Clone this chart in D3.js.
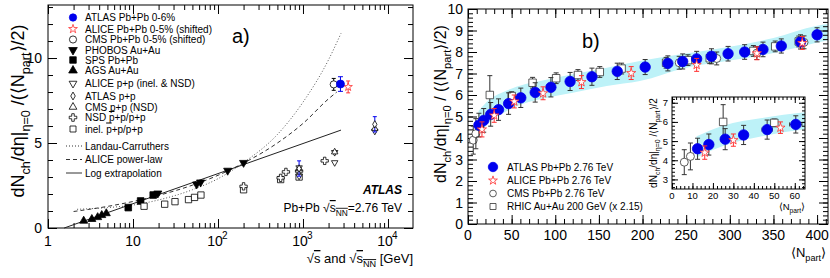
<!DOCTYPE html>
<meta charset="utf-8">
<title>dNch/deta per participant pair</title>
<style>
	body { margin: 0; background: #fff; }
	svg text { font-family: 'Liberation Sans Narrow', 'Liberation Sans', Arial, sans-serif; fill: #000; }
	.frame { fill: none; stroke: #000; stroke-width: 1; }
	.tick line, .domain { stroke: #000; }
</style>
<body>
<svg id="fig" width="830" height="278"></svg>

<script src="https://d3js.org/d3.v7.min.js"></script>
<script>
// ---------- panel a) : sqrt(s) [GeV] vs dNch/deta/(Npart/2) ----------
var agsE = [2.63, 3.28, 3.84, 4.29, 4.85];
var agsY = [0.42, 0.52, 0.63, 0.75, 0.86];
var spsE = [8.8, 12.3, 17.3];
var spsY = [1.2, 1.59, 1.94];
var phobosE = [19.6, 56, 62.4, 130, 200];
var phobosY = [2.04, 2.57, 2.69, 3.38, 3.84];
var lhcE = [2760, 3400, 2300];          // ATLAS, ALICE (shifted), CMS (shifted)
var lhcY = [8.47, 8.3, 8.45];
var lhcErr = [0.43, 0.35, 0.35];
var alicePpE = [900, 900, 2360, 2360, 7000];
var alicePpY = [3.05, 3.55, 3.85, 4.45, 5.7];
var atlasPpE = [900, 7000];
var atlasPpY = [3.5, 6.1];
var atlasPpErr = [0.45, 0.45];
var cmsPpE = [900, 2360, 7000];
var cmsPpY = [3.48, 4.47, 5.85];
var nsdE = [200, 546, 630, 900, 1800];
var nsdY = [2.45, 2.95, 3.3, 3.35, 3.95];
var inelE = [13.5, 23.6, 31.2, 45, 53, 63, 200, 546, 900];
var inelY = [1.28, 1.4, 1.55, 1.67, 1.8, 1.94, 2.25, 2.85, 3.0];
// curves
var landauE = [2.2, 5, 10, 20, 50, 100, 200, 500, 1000, 2000, 2800];
var landauY = [1.1, 1.2, 1.35, 1.65, 2.25, 2.9, 3.85, 5.5, 7.4, 9.9, 11.45];
var powerE = [2, 5, 10, 20, 50, 100, 200, 500, 1000, 2000, 2500];
var powerY = [0.97, 1.27, 1.56, 1.92, 2.52, 3.1, 3.82, 5.0, 6.15, 7.6, 8.0];
var logE = [1.55, 2800];
var logY = [0, 5.76];

// ---------- panel b) : <Npart> vs dNch/deta/(<Npart>/2) ----------
var atlasN = [12.5, 18, 26, 35, 46.5, 60.5, 77, 95, 117, 142, 171, 203, 229, 246, 262, 279, 298, 317, 338, 359, 381, 400];
var atlasV = [4.6, 4.82, 5.1, 5.32, 5.6, 5.87, 6.12, 6.36, 6.63, 6.85, 7.1, 7.3, 7.47, 7.56, 7.68, 7.8, 7.92, 8.0, 8.12, 8.28, 8.47, 8.8];
var atlasErr = [0.55, 0.55, 0.55, 0.5, 0.5, 0.45, 0.45, 0.45, 0.42, 0.4, 0.38, 0.35, 0.35, 0.35, 0.35, 0.35, 0.34, 0.34, 0.34, 0.33, 0.33, 0.33];
var atlasNErr = [1.5, 2, 2, 2, 2.5, 3, 3, 3, 3.5, 3.5, 4, 4, 4, 4, 4, 4, 4, 4, 4, 4, 4, 3.5];
var aliceN = [16, 30, 53, 86, 130, 187, 262, 331, 383];
var aliceV = [4.4, 5.05, 5.7, 6.08, 6.6, 7.02, 7.4, 7.94, 8.42];
var aliceErr = [0.35, 0.32, 0.3, 0.3, 0.3, 0.3, 0.3, 0.3, 0.3];
var cmsN = [6, 9, 242, 285, 331, 385];
var cmsV = [3.9, 4.2, 7.5, 7.7, 7.95, 8.45];
var cmsErr = [0.65, 0.7, 0.3, 0.3, 0.3, 0.3];
var rhicN = [25, 50, 74, 101, 126, 151, 176, 227, 252, 277, 327, 352, 379];
var rhicV = [6.0, 5.95, 6.57, 6.78, 6.93, 7.07, 7.23, 7.5, 7.62, 7.71, 8.05, 8.26, 8.49];
var rhicErr = [0.9, 0.2, 0.25, 0.25, 0.25, 0.25, 0.25, 0.25, 0.25, 0.25, 0.25, 0.25, 0.25];
// systematic band
var bandN = [12, 25, 44, 65, 83, 120, 159, 197, 250, 300, 350, 400, 412];
var bandLo = [4.15, 4.75, 5.25, 5.62, 5.8, 6.1, 6.42, 6.65, 7.27, 7.6, 7.95, 8.44, 8.55];
var bandHi = [5.25, 5.8, 6.2, 6.5, 6.65, 6.96, 7.27, 7.58, 7.93, 8.25, 8.65, 9.22, 9.3];

var BLUE = "#0000ee", RED = "#ff3030", BAND = "#bdf2f8";

var svg = d3.select("#fig");

// ---------- helpers ----------
// text with sub / superscripts: parts = [[string, kind], ...]
function rich(t, parts, fs) {
	var shift = 0;
	t.attr("font-size", fs);
	parts.forEach(function (p) {
		var kind = p[1] || "";
		var target = kind.indexOf("sub") >= 0 ? fs * 0.32 : kind.indexOf("sup") >= 0 ? -fs * 0.42 : 0;
		var sp = t.append("tspan").text(p[0]).attr("dy", target - shift);
		if (target !== 0) sp.attr("font-size", fs * 0.7);
		if (kind.indexOf("ovl") >= 0) sp.style("text-decoration", "overline");
		shift = target;
	});
	return t;
}

var shapes = {
	circle: d3.symbolCircle, square: d3.symbolSquare, tri: d3.symbolTriangle,
	diamond: d3.symbolDiamond, cross: d3.symbolCross, star: d3.symbolStar
};
function marker(g, kind, x, y, size, color, filled, down) {
	var p = g.append("path")
		.attr("d", d3.symbol().type(shapes[kind]).size(size)())
		.attr("transform", "translate(" + x + "," + y + ")" + (down ? " rotate(180)" : ""))
		.attr("fill", filled ? color : "#fff")
		.attr("stroke", color)
		.attr("stroke-width", 0.8);
	return p;
}
function errBar(g, x, y0, y1, color, cap) {
	g.append("line").attr("x1", x).attr("x2", x).attr("y1", y0).attr("y2", y1)
		.attr("stroke", color).attr("stroke-width", 1);
	if (cap) {
		[y0, y1].forEach(function (yy) {
			g.append("line").attr("x1", x - cap).attr("x2", x + cap).attr("y1", yy).attr("y2", yy)
				.attr("stroke", color).attr("stroke-width", 1);
		});
	}
}
function hBar(g, x0, x1, y, color, cap) {
	g.append("line").attr("x1", x0).attr("x2", x1).attr("y1", y).attr("y2", y)
		.attr("stroke", color).attr("stroke-width", 1);
	[x0, x1].forEach(function (xx) {
		g.append("line").attr("x1", xx).attr("x2", xx).attr("y1", y - cap).attr("y2", y + cap)
			.attr("stroke", color).attr("stroke-width", 1);
	});
}
function zip(a, b) { return a.map(function (v, i) { return [v, b[i]]; }); }

// inward ticks on all four sides
function frameAxes(g, x, y, xMajor, xMinor, yMajor, yMinor, L, S) {
	var r = x.range(), t = y.range();
	var defs = [
		[d3.axisBottom(x), "translate(0," + t[0] + ")"],
		[d3.axisTop(x), "translate(0," + t[1] + ")"],
		[d3.axisLeft(y), "translate(" + r[0] + ",0)"],
		[d3.axisRight(y), "translate(" + r[1] + ",0)"]
	];
	defs.forEach(function (d, i) {
		var major = i < 2 ? xMajor : yMajor, minor = i < 2 ? xMinor : yMinor;
		g.append("g").attr("transform", d[1])
			.call(d[0].tickValues(major).tickSize(-L).tickSizeOuter(0).tickFormat(""))
			.call(function (s) { s.select(".domain").remove(); });
		g.append("g").attr("transform", d[1])
			.call(d[0].tickValues(minor).tickSize(-S).tickSizeOuter(0).tickFormat(""))
			.call(function (s) { s.select(".domain").remove(); });
	});
	g.append("rect").attr("class", "frame")
		.attr("x", r[0]).attr("y", t[1]).attr("width", r[1] - r[0]).attr("height", t[0] - t[1]);
}

// =====================================================================
// panel a)
// =====================================================================
var xa = d3.scaleLog().domain([1, 19700]).range([48, 413]);
var ya = d3.scaleLinear().domain([0, 13.12]).range([228, 5]);
var ga = svg.append("g");

var logMinor = [];
[1, 10, 100, 1000, 10000].forEach(function (d) {
	for (var k = 2; k <= 9; k++) if (d * k < 19700) logMinor.push(d * k);
});
frameAxes(ga, xa, ya, [1, 10, 100, 1000, 10000], logMinor, [0, 5, 10], d3.range(0, 14), 9, 5);

// tick labels
[0, 5, 10].forEach(function (v) {
	ga.append("text").attr("x", 42).attr("y", ya(v) + 5).attr("text-anchor", "end")
		.attr("font-size", 14).text(v);
});
[1, 10, 100, 1000, 10000].forEach(function (v) {
	var p = Math.round(Math.log10(v));
	var cx = xa(v) + (p >= 2 ? -3 : 0);
	ga.append("text").attr("x", cx).attr("y", 246).attr("text-anchor", "middle")
		.attr("font-size", 14).text(p >= 2 ? "10" : v);
	if (p >= 2) ga.append("text").attr("x", cx + 7).attr("y", 239).attr("font-size", 10).text(p);
});
rich(ga.append("text").attr("x", 413).attr("y", 263).attr("text-anchor", "end"),
	[["\u221a"], ["s", "ovl"], [" and "], ["\u221a"], ["s", "ovl"], ["NN", "subovl"], [" [GeV]"]], 13);
rich(ga.append("text").attr("transform", "translate(24,111) rotate(-90)").attr("text-anchor", "middle"),
	[["dN"], ["ch", "sub"], ["/d\u03b7|"], ["\u03b7=0", "sub"], [" /(\u27e8N"], ["part", "sub"], ["\u27e9/2)"]], 18);

// curves
var lineA = d3.line().x(function (d) { return xa(d[0]); }).y(function (d) { return ya(d[1]); }).curve(d3.curveMonotoneX);
ga.append("path").attr("d", lineA(zip(landauE, landauY))).attr("fill", "none")
	.attr("stroke", "#555").attr("stroke-width", 1).attr("stroke-dasharray", "1,2");
ga.append("path").attr("d", lineA(zip(powerE, powerY))).attr("fill", "none")
	.attr("stroke", "#333").attr("stroke-width", 1).attr("stroke-dasharray", "4,3");
ga.append("path").attr("d", lineA(zip(logE, logY))).attr("fill", "none")
	.attr("stroke", "#222").attr("stroke-width", 1);

// points
agsE.forEach(function (e, i) { marker(ga, "tri", xa(e), ya(agsY[i]), 28, "#000", true); });
spsE.forEach(function (e, i) { marker(ga, "square", xa(e), ya(spsY[i]), 44, "#000", true); });
phobosE.forEach(function (e, i) { marker(ga, "tri", xa(e), ya(phobosY[i]), 28, "#000", true, true); });
inelE.forEach(function (e, i) { marker(ga, "square", xa(e), ya(inelY[i]), 40, "#000", false); });
nsdE.forEach(function (e, i) { marker(ga, "cross", xa(e), ya(nsdY[i]), 30, "#000", false); });
alicePpE.forEach(function (e, i) { marker(ga, "tri", xa(e), ya(alicePpY[i]), 18, "#000", false, true); });
cmsPpE.forEach(function (e, i) { marker(ga, "tri", xa(e), ya(cmsPpY[i]), 18, "#000", false); });
atlasPpE.forEach(function (e, i) {
	errBar(ga, xa(e), ya(atlasPpY[i] - atlasPpErr[i]), ya(atlasPpY[i] + atlasPpErr[i]), BLUE, 2);
	marker(ga, "diamond", xa(e), ya(atlasPpY[i]), 16, "#000", false);
});
// 2.76 TeV Pb+Pb
errBar(ga, xa(lhcE[2]), ya(lhcY[2] - lhcErr[2]), ya(lhcY[2] + lhcErr[2]), "#000", 2);
marker(ga, "circle", xa(lhcE[2]), ya(lhcY[2]), 40, "#000", false);
errBar(ga, xa(lhcE[1]), ya(lhcY[1] - lhcErr[1]), ya(lhcY[1] + lhcErr[1]), RED, 2);
marker(ga, "star", xa(lhcE[1]), ya(lhcY[1]), 22, RED, false);
errBar(ga, xa(lhcE[0]), ya(lhcY[0] - lhcErr[0]), ya(lhcY[0] + lhcErr[0]), BLUE, 2.5);
marker(ga, "circle", xa(lhcE[0]), ya(lhcY[0]), 50, BLUE, true);

// legend a)
var legA = [
	["circle", BLUE, true, false, "ATLAS Pb+Pb 0-6%", 42],
	["star", RED, false, false, "ALICE Pb+Pb 0-5% (shifted)", 24],
	["circle", "#000", false, false, "CMS Pb+Pb 0-5% (shifted)", 40],
	["tri", "#000", true, true, "PHOBOS Au+Au", 32],
	["square", "#000", true, false, "SPS Pb+Pb", 42],
	["tri", "#000", true, false, "AGS Au+Au", 32],
	["tri", "#000", false, true, "ALICE p+p (inel. & NSD)", 26],
	["diamond", "#000", false, false, "ATLAS p+p", 18],
	["tri", "#000", false, false, "CMS p+p (NSD)", 26],
	["cross", "#000", false, false, null, 32],
	["square", "#000", false, false, null, 36]
];
var legAy = [17.5, 29, 39.5, 50, 60, 70.5, 83.5, 96, 107, 117.5, 129];
legA.forEach(function (d, i) {
	marker(ga, d[0], 73, legAy[i], d[5], d[1], d[2], d[3]);
	if (d[4]) ga.append("text").attr("x", 85).attr("y", legAy[i] + 3.5).attr("font-size", 10).text(d[4]);
});
rich(ga.append("text").attr("x", 85).attr("y", legAy[9] + 3.5), [["NSD "], ["p", "ovl"], ["+p/p+p"]], 10);
rich(ga.append("text").attr("x", 85).attr("y", legAy[10] + 3.5), [["inel. "], ["p", "ovl"], ["+p/p+p"]], 10);
[["1,2", "Landau-Carruthers", 146], ["4,3", "ALICE power-law", 159.5], [null, "Log extrapolation", 173]]
	.forEach(function (d) {
		ga.append("line").attr("x1", 66).attr("x2", 82).attr("y1", d[2]).attr("y2", d[2])
			.attr("stroke", "#333").attr("stroke-dasharray", d[0]);
		ga.append("text").attr("x", 85).attr("y", d[2] + 3.5).attr("font-size", 10).text(d[1]);
	});

ga.append("text").attr("x", 232).attr("y", 43).attr("font-size", 20)
	.style("font-family", "'Liberation Sans', Arial, sans-serif").text("a)");
ga.append("text").attr("x", 402).attr("y", 194).attr("text-anchor", "end").attr("font-size", 12)
	.attr("font-weight", "bold").attr("font-style", "italic").text("ATLAS");
rich(ga.append("text").attr("x", 402).attr("y", 212).attr("text-anchor", "end"),
	[["Pb+Pb  \u221a"], ["s", "ovl"], ["NN", "subovl"], ["=2.76 TeV"]], 12);

// =====================================================================
// panel b)
// =====================================================================
var xb = d3.scaleLinear().domain([0, 412.5]).range([468, 828]);
var yb = d3.scaleLinear().domain([0, 10]).range([224, 9]);
var gb = svg.append("g");

var areaB = d3.area().x(function (d) { return xb(d[0]); })
	.y0(function (d) { return yb(d[1]); }).y1(function (d) { return yb(d[2]); })
	.curve(d3.curveMonotoneX);
var bandData = bandN.map(function (n, i) { return [n, bandLo[i], bandHi[i]]; });
gb.append("path").attr("d", areaB(bandData)).attr("fill", BAND);

frameAxes(gb, xb, yb, d3.range(0, 401, 50), d3.range(0, 411, 10), d3.range(0, 11), d3.range(0, 10.01, 0.2), 9, 5);
d3.range(0, 11).forEach(function (v) {
	gb.append("text").attr("x", 463).attr("y", yb(v) + 5).attr("text-anchor", "end").attr("font-size", 14).text(v);
});
d3.range(0, 401, 50).forEach(function (v) {
	gb.append("text").attr("x", xb(v)).attr("y", 240).attr("text-anchor", "middle").attr("font-size", 14).text(v);
});
rich(gb.append("text").attr("x", 826).attr("y", 257).attr("text-anchor", "end"),
	[["\u27e8N"], ["part", "sub"], ["\u27e9"]], 13);
rich(gb.append("text").attr("transform", "translate(446,104) rotate(-90)").attr("text-anchor", "middle"),
	[["dN"], ["ch", "sub"], ["/d\u03b7|"], ["\u03b7=0", "sub"], [" / (\u27e8N"], ["part", "sub"], ["\u27e9/2)"]], 16);
gb.append("text").attr("x", 582).attr("y", 48).attr("font-size", 20)
	.style("font-family", "'Liberation Sans', Arial, sans-serif").text("b)");

function drawPoints(g, x, y, filter) {
	rhicN.forEach(function (n, i) {
		if (!filter(n)) return;
		errBar(g, x(n), y(rhicV[i] - rhicErr[i]), y(rhicV[i] + rhicErr[i]), "#333", 2.5);
		marker(g, "square", x(n), y(rhicV[i]), 56, "#333", false);
	});
	cmsN.forEach(function (n, i) {
		if (!filter(n)) return;
		errBar(g, x(n), y(cmsV[i] - cmsErr[i]), y(cmsV[i] + cmsErr[i]), "#333", 2.5);
		marker(g, "circle", x(n), y(cmsV[i]), 50, "#333", false);
	});
	atlasN.forEach(function (n, i) {
		if (!filter(n)) return;
		errBar(g, x(n), y(atlasV[i] - atlasErr[i]), y(atlasV[i] + atlasErr[i]), "#333", 2.5);
		hBar(g, x(n - atlasNErr[i]), x(n + atlasNErr[i]), y(atlasV[i]), "#333", 2);
		marker(g, "circle", x(n), y(atlasV[i]), 85, BLUE, true);
	});
	aliceN.forEach(function (n, i) {
		if (!filter(n)) return;
		errBar(g, x(n), y(aliceV[i] - aliceErr[i]), y(aliceV[i] + aliceErr[i]), RED, 2.5);
		marker(g, "star", x(n), y(aliceV[i]), 26, RED, false);
	});
}
drawPoints(gb, xb, yb, function () { return true; });

// legend b)
var legB = [
	["circle", BLUE, true, "ATLAS Pb+Pb 2.76 TeV", 167, 70],
	["star", RED, false, "ALICE Pb+Pb 2.76 TeV", 180.5, 24],
	["circle", "#333", false, "CMS Pb+Pb 2.76 TeV", 193.5, 36],
	["square", "#333", false, "RHIC Au+Au 200 GeV (x 2.15)", 206.5, 36]
];
legB.forEach(function (d) {
	marker(gb, d[0], 493, d[4], d[5], d[1], d[2]);
	gb.append("text").attr("x", 507).attr("y", d[4] + 3.5).attr("font-size", 10).text(d[3]);
});

// ---------- inset ----------
var xi = d3.scaleLinear().domain([0, 65]).range([672, 805]);
var yi = d3.scaleLinear().domain([2.5, 7.3]).range([189, 97]);
var gi = svg.append("g");
svg.append("clipPath").attr("id", "clipInset").append("rect")
	.attr("x", 672).attr("y", 97).attr("width", 133).attr("height", 92);
gi.append("rect").attr("x", 672).attr("y", 97).attr("width", 133).attr("height", 92).attr("fill", "#fff");
gi.append("path").attr("d", areaB.x(function (d) { return xi(d[0]); })
	.y0(function (d) { return yi(d[1]); }).y1(function (d) { return yi(d[2]); })(bandData.filter(function (d) { return d[0] <= 83; })))
	.attr("fill", BAND).attr("clip-path", "url(#clipInset)");
frameAxes(gi, xi, yi, d3.range(0, 61, 10), d3.range(0, 65, 2), d3.range(3, 8), d3.range(2.6, 7.3, 0.2), 6, 3);
d3.range(0, 61, 10).forEach(function (v) {
	gi.append("text").attr("x", xi(v)).attr("y", 199).attr("text-anchor", "middle").attr("font-size", 9.5).text(v);
});
d3.range(3, 8).forEach(function (v) {
	gi.append("text").attr("x", 668).attr("y", yi(v) + 3.5).attr("text-anchor", "end").attr("font-size", 9.5).text(v);
});
rich(gi.append("text").attr("x", 805).attr("y", 210).attr("text-anchor", "end"),
	[["\u27e8N"], ["part", "sub"], ["\u27e9"]], 9.5);
rich(gi.append("text").attr("transform", "translate(657,143) rotate(-90)").attr("text-anchor", "middle"),
	[["dN"], ["ch", "sub"], ["/d\u03b7|"], ["\u03b7=0", "sub"], [" /\u27e8N"], ["part", "sub"], ["\u27e9/2"]], 10);
drawPoints(gi, xi, yi, function (n) { return n < 64; });
</script>
</body>
